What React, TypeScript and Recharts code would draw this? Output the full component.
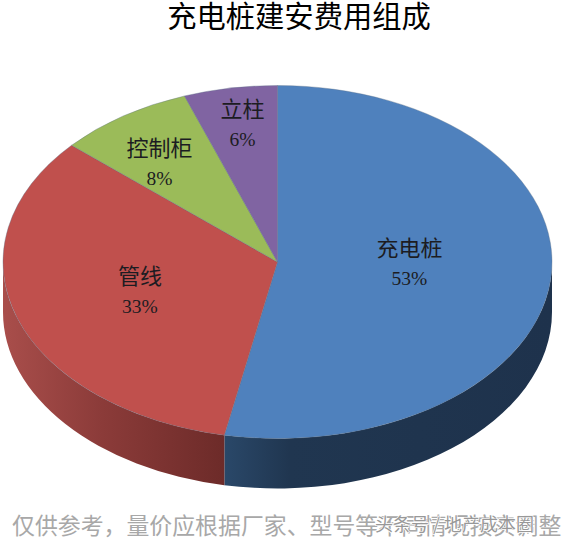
import { PieChart, Pie, Cell } from "recharts";

const categories = ["充电桩", "管线", "控制柜", "立柱"];
const shares = [53.1, 33.4, 8.0, 5.5];
const sliceColors = ["#4f81bd", "#c0504d", "#9bbb59", "#8064a2"];
const wallGradients = ["url(#wallBlue)", "url(#wallRed)", "#6f2c2a", "#4d3c62"];

const data = categories.map((name, i) => ({ name, value: shares[i] }));

// the pie is tilted: radius is squeezed vertically and has a wall below it
const TILT = 176.5 / 274.5;
const DEPTH = 50;
const CJK = '"Noto Sans CJK SC", sans-serif';

// hand placed label spots, as fractions of the radius plus a vertical nudge
const labelReach = [0.483, 0.529, 0.764, 0.74];
const labelNudge = [-7, -1, 13, -9];

const RAD = Math.PI / 180;

function TiltedSlice(props: any) {
  const { cx, cy, outerRadius, startAngle, endAngle, fill, index } = props;
  const rx = outerRadius;
  const ry = outerRadius * TILT;
  const pt = (a: number) => [cx + rx * Math.cos(a * RAD), cy - ry * Math.sin(a * RAD)];
  const [x0, y0] = pt(startAngle);
  const [x1, y1] = pt(endAngle);
  const large = startAngle - endAngle > 180 ? 1 : 0;
  const top = `M${cx},${cy} L${x0},${y0} A${rx},${ry} 0 ${large} 1 ${x1},${y1} Z`;

  // the wall only shows on the front half of the rim
  const from = Math.min(startAngle, 0);
  const to = Math.max(endAngle, -180);
  let wall = null;
  if (from > to) {
    const [wx0, wy0] = pt(from);
    const [wx1, wy1] = pt(to);
    wall = (
      <path
        d={`M${wx0},${wy0} A${rx},${ry} 0 0 1 ${wx1},${wy1} L${wx1},${wy1 + DEPTH} A${rx},${ry} 0 0 0 ${wx0},${wy0 + DEPTH} Z`}
        fill={wallGradients[index]}
      />
    );
  }
  return (
    <g>
      {wall}
      <path d={top} fill={fill} stroke="#5d6f86" strokeOpacity={0.45} strokeWidth={0.8} />
    </g>
  );
}

function SliceLabel(props: any) {
  const { cx, cy, outerRadius, midAngle, index, name, percent } = props;
  const x = cx + outerRadius * labelReach[index] * Math.cos(midAngle * RAD);
  const y = cy - outerRadius * TILT * labelReach[index] * Math.sin(midAngle * RAD) + labelNudge[index];
  return (
    <g fill="#1c1c22">
      <text x={x} y={y - 7} textAnchor="middle" fontFamily={CJK} fontSize={22}>
        {name}
      </text>
      <text x={x} y={y + 22} textAnchor="middle" fontFamily='"Liberation Serif", serif' fontSize={19.5}>
        {Math.round(percent * 100)}%
      </text>
    </g>
  );
}

export default function App() {
  return (
    <div style={{ position: "absolute", left: 0, top: 0, width: 567, height: 540, background: "#fff" }}>
      <PieChart width={567} height={540} margin={{ top: 0, right: 0, bottom: 0, left: 0 }}>
        <defs>
          <linearGradient id="wallBlue" gradientUnits="userSpaceOnUse" x1="224" y1="0" x2="552" y2="0">
            <stop offset="0%" stopColor="#2a4869" />
            <stop offset="20%" stopColor="#203650" />
            <stop offset="100%" stopColor="#1e324c" />
          </linearGradient>
          <linearGradient id="wallRed" gradientUnits="userSpaceOnUse" x1="3" y1="0" x2="224" y2="0">
            <stop offset="0%" stopColor="#a94e4b" />
            <stop offset="45%" stopColor="#8b3b39" />
            <stop offset="100%" stopColor="#6d2b29" />
          </linearGradient>
        </defs>
        <text x={299} y={27} textAnchor="middle" fontFamily={CJK} fontSize={29.3} fill="#000">
          充电桩建安费用组成
        </text>
        <Pie
          data={data}
          dataKey="value"
          nameKey="name"
          cx={277.5}
          cy={262}
          innerRadius={0}
          outerRadius={274.5}
          startAngle={90}
          endAngle={-270}
          paddingAngle={0}
          stroke="none"
          shape={TiltedSlice}
          label={SliceLabel}
          labelLine={false}
          isAnimationActive={false}
        >
          {data.map((d, i) => (
            <Cell key={d.name} fill={sliceColors[i]} />
          ))}
        </Pie>
        <text x={12} y={534} fontFamily={CJK} fontSize={22.9} fill="#a8a8a8">
          仅供参考，量价应根据厂家、型号等不同情况按实调整
        </text>
        <text x={375} y={531} fontFamily={CJK} fontSize={18} fill="#989898" stroke="#fff" strokeWidth={1.4} paintOrder="stroke">
          头条号 / 地产成本圈
        </text>
      </PieChart>
    </div>
  );
}
